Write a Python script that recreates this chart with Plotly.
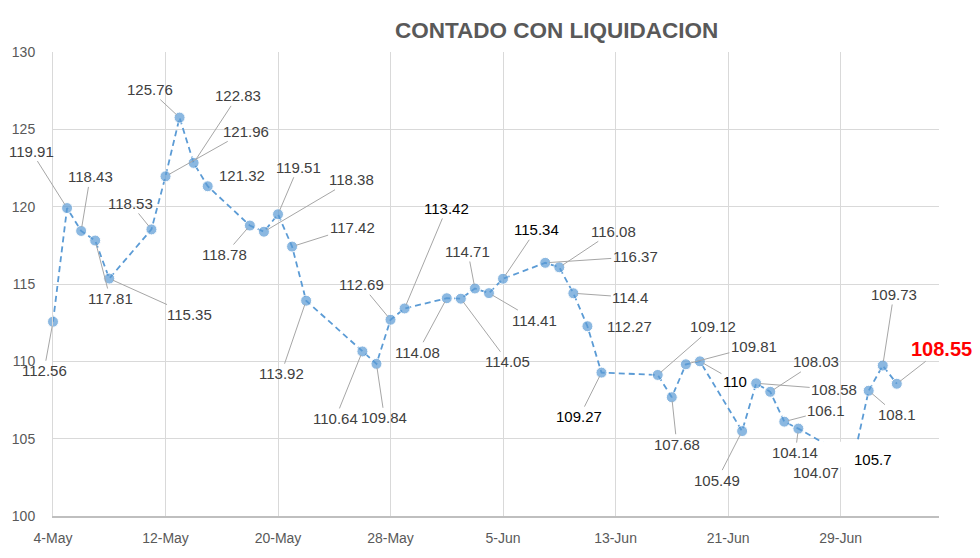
import plotly.graph_objects as go

dates = ["2020-05-04", "2020-05-05", "2020-05-06", "2020-05-07", "2020-05-08",
         "2020-05-11", "2020-05-12", "2020-05-13", "2020-05-14", "2020-05-15",
         "2020-05-18", "2020-05-19", "2020-05-20", "2020-05-21", "2020-05-22",
         "2020-05-26", "2020-05-27", "2020-05-28", "2020-05-29",
         "2020-06-01", "2020-06-02", "2020-06-03", "2020-06-04", "2020-06-05",
         "2020-06-08", "2020-06-09", "2020-06-10", "2020-06-11", "2020-06-12",
         "2020-06-16", "2020-06-17", "2020-06-18", "2020-06-19",
         "2020-06-22", "2020-06-23", "2020-06-24", "2020-06-25", "2020-06-26",
         "2020-06-29", "2020-06-30", "2020-07-01", "2020-07-02", "2020-07-03"]

values = [112.56, 119.91, 118.43, 117.81, 115.35,
          118.53, 121.96, 125.76, 122.83, 121.32,
          118.78, 118.38, 119.51, 117.42, 113.92,
          110.64, 109.84, 112.69, 113.42,
          114.08, 114.05, 114.71, 114.41, 115.34,
          116.37, 116.08, 114.40, 112.27, 109.27,
          109.12, 107.68, 109.81, 110.00,
          105.49, 108.58, 108.03, 106.10, 105.65,
          104.10, 104.00, 108.10, 109.73, 108.55]

labels = ["112.56", "119.91", "118.43", "117.81", "115.35",
          "118.53", "121.96", "125.76", "122.83", "121.32",
          "118.78", "118.38", "119.51", "117.42", "113.92",
          "110.64", "109.84", "112.69", "113.42",
          "114.08", "114.05", "114.71", "114.41", "115.34",
          "116.37", "116.08", "114.4", "112.27", "109.27",
          "109.12", "107.68", "109.81", "110",
          "105.49", "108.58", "108.03", "106.1", "104.14",
          "104.07", "105.7", "108.1", "109.73", "108.55"]

# label placement (pixel offsets from point, leader line shown?)
label_offsets = [(-9, 49, 1), (-36, -57, 1), (9, -54, 1), (15, 58, 1), (80, 36, 1),
                 (-21, -26, 1), (80, -45, 1), (-30, -28, 1), (44, -67, 1), (34, -11, 0),
                 (-25, 29, 1), (88, -52, 1), (20, -47, 1), (60, -19, 1), (-25, 73, 1),
                 (-27, 67, 1), (8, 54, 1), (-29, -35, 1), (42, -100, 1),
                 (-29, 54, 1), (47, 63, 1), (-7, -37, 1), (46, 27, 1), (33, -49, 1),
                 (90, -6, 1), (54, -36, 1), (57, 4, 1), (42, 0, 0), (-22, 44, 1),
                 (55, -48, 1), (5, 47, 1), (68, -18, 1), (35, 20, 1),
                 (-25, 49, 1), (78, 6, 1), (46, -30, 1), (42, -11, 1), (-3, 24, 1),
                 (-25, 20, 0), (18, 5, 0), (28, 24, 1), (11, -71, 1), (45, -35, 1)]
black_labels = {"113.42", "115.34", "109.27", "110", "105.7"}
marker_sizes = [0 if d in ("2020-06-29", "2020-06-30") else 11 for d in dates]

tick_start = "2020-05-04"
x_range = ["2020-05-04", "2020-07-06"]
y_range = [100, 130]

BLUE = "#5b9bd5"
GRAY = "#595959"
FONT = "Liberation Sans, Arial, sans-serif"

fig = go.Figure()
fig.add_trace(go.Scatter(
    x=dates, y=values, mode="lines+markers",
    line=dict(color=BLUE, width=1.8, dash="6px,4px"),
    marker=dict(color=BLUE, size=marker_sizes),
    cliponaxis=False, hoverinfo="x+y", showlegend=False))

annotations = []
for d, v, t, (ax, ay, lead) in zip(dates, values, labels, label_offsets):
    last = t == "108.55"
    annotations.append(dict(
        x=d, y=v, xref="x", yref="y", text=("<b>%s</b>" % t) if last else t,
        showarrow=True, ax=ax, ay=ay, arrowhead=0, arrowwidth=1,
        arrowcolor="#a6a6a6" if lead else "rgba(0,0,0,0)", standoff=4,
        font=dict(family=FONT, size=20 if last else 15,
                  color="#ff0000" if last else ("#000000" if t in black_labels else "#404040"))))

fig.update_layout(
    width=980, height=558,
    margin=dict(l=52, r=41, t=52, b=39),
    paper_bgcolor="white", plot_bgcolor="white",
    title=dict(text="<b>CONTADO CON LIQUIDACION</b>", x=0.568, xanchor="center",
               y=0.946, yanchor="middle", yref="container",
               font=dict(family=FONT, size=22.5, color=GRAY)),
    annotations=annotations,
    shapes=[dict(type="rect", xref="x", yref="y", layer="above",
                 x0="2020-06-26 19:00", x1="2020-06-30 09:00", y0=103.15, y1=104.8,
                 fillcolor="white", line=dict(width=0))],
    xaxis=dict(type="date", range=x_range, tick0=tick_start, dtick=8 * 86400000,
               tickformat="%-d-%b", showgrid=True, gridcolor="#d9d9d9", gridwidth=1,
               showline=True, linecolor="#bfbfbf", linewidth=1.5, zeroline=False,
               ticks="", ticklabelstandoff=8,
               tickfont=dict(family=FONT, size=14, color=GRAY)),
    yaxis=dict(range=y_range, dtick=5, showgrid=True, gridcolor="#d9d9d9", gridwidth=1,
               showline=True, linecolor="#d9d9d9", zeroline=False, ticks="",
               ticklabelstandoff=14,
               tickfont=dict(family=FONT, size=14, color=GRAY)),
)

fig.write_html("out.html")
